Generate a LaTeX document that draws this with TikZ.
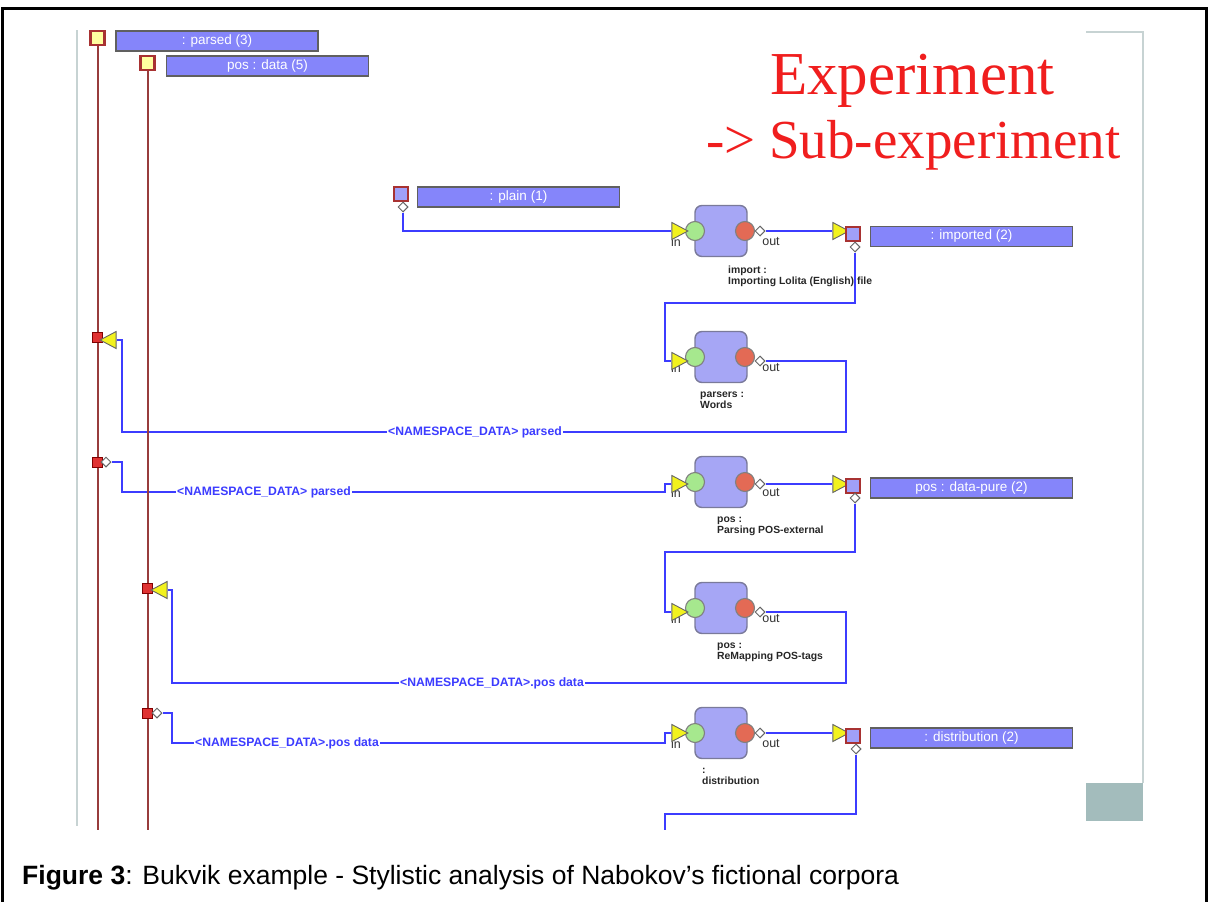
\documentclass[tikz,border=0pt]{standalone}
\usepackage{fontspec}
\setmainfont{Liberation Sans}
\newfontfamily\serifr{Liberation Serif}
\usetikzlibrary{shapes.geometric}
\definecolor{wireblue}{HTML}{3C3CFF}
\definecolor{brownline}{HTML}{983C3C}
\definecolor{sqbrown}{HTML}{A83232}
\definecolor{sqyellow}{HTML}{FFFFA0}
\definecolor{sqlav}{HTML}{A0A0F8}
\definecolor{barblue}{HTML}{8585FA}
\definecolor{bargray}{HTML}{606060}
\definecolor{blocklav}{HTML}{A6A6F5}
\definecolor{blockgray}{HTML}{7A7A9A}
\definecolor{ingreen}{HTML}{A6E88E}
\definecolor{outred}{HTML}{E36A55}
\definecolor{triyellow}{HTML}{F2F21E}
\definecolor{redsqc}{HTML}{E03232}
\definecolor{framegray}{HTML}{C7D3D3}
\definecolor{boxgray}{HTML}{A3BCBC}
\definecolor{expred}{HTML}{F01E1E}
\pgfdeclarelayer{bg}
\pgfsetlayers{bg,main}
\tikzset{
 wire/.style={draw=wireblue, line width=2.5pt},
 brownl/.style={draw=brownline, line width=2pt},
 topsq/.style={rectangle, draw=sqbrown, fill=sqyellow, line width=2.5pt, minimum size=14pt, inner sep=0pt},
 outsq/.style={rectangle, draw=sqbrown, fill=sqlav, line width=2.5pt, minimum size=14pt, inner sep=0pt},
 bar/.style={rectangle, draw=bargray, fill=barblue, line width=1.2pt, minimum width=202pt, minimum height=20pt, inner sep=0pt, text=white, font=\fontsize{13.5}{14}\selectfont},
 blockbox/.style={rectangle, rounded corners=7pt, draw=blockgray, fill=blocklav, line width=1.4pt, minimum width=52pt, minimum height=51pt},
 incirc/.style={circle, draw=gray, fill=ingreen, minimum size=19pt, inner sep=0pt, line width=1.1pt},
 outcirc/.style={circle, draw=gray, fill=outred, minimum size=19pt, inner sep=0pt, line width=1.1pt},
 tri/.style={isosceles triangle, isosceles triangle stretches, shape border rotate=0, draw=black!60, fill=triyellow, minimum width=17pt, minimum height=16pt, inner sep=0pt, line width=0.9pt},
 trileft/.style={tri, shape border rotate=180},
 dia/.style={diamond, draw=black!60, fill=white, minimum size=10pt, inner sep=0pt, line width=1pt},
 redsq/.style={rectangle, fill=redsqc, draw=red!50!black, minimum size=10pt, inner sep=0pt, line width=0.6pt},
 ptlabel/.style={font=\fontsize{12.5}{13}\selectfont, text=black!80, inner sep=0pt},
 wirelabel/.style={fill=white, text=wireblue, font=\bfseries\fontsize{12.2}{12}\selectfont, inner sep=1pt},
 blocklabel/.style={font=\bfseries\fontsize{10.4}{11}\selectfont, align=left, anchor=north west, inner sep=0pt, text=black!85},
}
\begin{document}
\begin{tikzpicture}[x=1pt, y=-1pt]
\useasboundingbox (0,0) rectangle (1208,902);
% outer frame
\draw[line width=3pt] (2,905) -- (2,8) -- (1206,8) -- (1206,905);
% light frame
\draw[framegray, line width=2pt] (77,30) -- (77,826);
\draw[framegray, line width=2pt] (1086,32) -- (1143,32) -- (1143,783);
\fill[boxgray] (1086,783) rectangle (1143,821);
% title
\node[anchor=base west, inner sep=0pt, text=expred, font=\serifr\fontsize{61}{61}\selectfont] (t1) at (770,94) {Experiment};
\node[anchor=base west, inner sep=0pt, text=expred, font=\serifr\fontsize{55}{55}\selectfont] (t2) at (706,158) {-> Sub-experiment};
% top ports
\node[topsq] (s1) at (97.5,38) {};
\node[bar] (b1) at (217,41) {: parsed (3)};
\node[topsq] (s2) at (147.5,63) {};
\node[bar] (b2) at (267.5,66) {pos : data (5)};
\coordinate (e1) at (97.5,830);
\coordinate (e2) at (147.5,830);
% left ports
\node[redsq] (r1) at (97.5,337) {};
\node[trileft] (lt1) at (111,340) {};
\node[redsq] (r2) at (97.5,462) {};
\node[dia] (ld2) at (106,462) {};
\node[redsq] (r3) at (147.5,588) {};
\node[trileft] (lt2) at (162,590) {};
\node[redsq] (r4) at (147.5,713) {};
\node[dia] (ld4) at (157,713) {};
% plain
\node[outsq] (ps) at (401,194) {};
\node[bar] (pb) at (518.5,197) {: plain (1)};
\node[dia] (pd) at (403,207) {};
% import block
\node[blockbox] (imb) at (721,231) {};
\node[ptlabel] (imil) at (676,242) {in};
\node[ptlabel] (imol) at (771,242) {out};
\node[incirc] (imgc) at (695,231) {};
\node[outcirc] (imrc) at (745,231) {};
\node[tri] (imin) at (677,231) {};
\node[dia] (imod) at (760,231) {};
\node[tri] (imot) at (838,231) {};
\node[outsq] (imsq) at (853,234) {};
\node[bar] (imbar) at (971.5,236.5) {: imported (2)};
\node[dia] (imsd) at (855,247) {};
\node[blocklabel] (imlab) at (728,266) {import :\\Importing Lolita (English) file};
% parsers block
\node[blockbox] (pab) at (721,357) {};
\node[ptlabel] (pail) at (676,368) {in};
\node[ptlabel] (paol) at (771,368) {out};
\node[incirc] (pagc) at (695,357) {};
\node[outcirc] (parc) at (745,357) {};
\node[tri] (pain) at (677,361) {};
\node[dia] (paod) at (760,361) {};
\node[blocklabel] (palab) at (700,392) {parsers :\\Words};
% pos block
\node[blockbox] (pob) at (721,482) {};
\node[ptlabel] (poil) at (676,493) {in};
\node[ptlabel] (pool) at (771,493) {out};
\node[incirc] (pogc) at (695,482) {};
\node[outcirc] (porc) at (745,482) {};
\node[tri] (poin) at (677,484) {};
\node[dia] (pood) at (760,484) {};
\node[tri] (poot) at (838,484) {};
\node[outsq] (posq) at (853,486) {};
\node[bar] (pobar) at (971.5,488) {pos : data-pure (2)};
\node[dia] (posd) at (855,498) {};
\node[blocklabel] (polab) at (717,517) {pos :\\Parsing POS-external};
% remap block
\node[blockbox] (rmb) at (721,608) {};
\node[ptlabel] (rmil) at (676,619) {in};
\node[ptlabel] (rmol) at (771,619) {out};
\node[incirc] (rmgc) at (695,608) {};
\node[outcirc] (rmrc) at (745,608) {};
\node[tri] (rmin) at (677,612) {};
\node[dia] (rmod) at (760,612) {};
\node[blocklabel] (rmlab) at (717,643) {pos :\\ReMapping POS-tags};
% distribution block
\node[blockbox] (dib) at (721,733) {};
\node[ptlabel] (diil) at (676,744) {in};
\node[ptlabel] (diol) at (771,744) {out};
\node[incirc] (digc) at (695,733) {};
\node[outcirc] (dirc) at (745,733) {};
\node[tri] (diin) at (677,733) {};
\node[dia] (diod) at (760,733) {};
\node[tri] (diot) at (838,733) {};
\node[outsq] (disq) at (853,736) {};
\node[bar] (dibar) at (971.5,738) {: distribution (2)};
\node[dia] (disd) at (856,749) {};
\node[blocklabel] (dilab) at (702,768) {:\\distribution};
\coordinate (dend) at (665,830);
% wire labels
\node[wirelabel] (wl1) at (475,432) {<NAMESPACE\_DATA> parsed};
\node[wirelabel] (wl2) at (264,492) {<NAMESPACE\_DATA> parsed};
\node[wirelabel] (wl3) at (492,683) {<NAMESPACE\_DATA>.pos data};
\node[wirelabel] (wl4) at (287,743) {<NAMESPACE\_DATA>.pos data};
\begin{pgfonlayer}{bg}
\draw[wire] (pd.south) |- (imin.west);
\draw[wire] (imod.east) -- (imot.west);
\draw[wire] (imsd.south) |- (665,303) |- (pain.west);
\draw[wire] (paod.east) -| (846,432) -| (122,340) -- (lt1.east);
\draw[wire] (ld2.east) -| (122,492) -- (665,492) |- (poin.west);
\draw[wire] (pood.east) -- (poot.west);
\draw[wire] (posd.south) |- (665,552) |- (rmin.west);
\draw[wire] (rmod.east) -| (846,683) -| (172,590) -- (lt2.east);
\draw[wire] (ld4.east) -| (172,743) -- (665,743) |- (diin.west);
\draw[wire] (diod.east) -- (diot.west);
\draw[wire] (disd.south) |- (665,814) -- (dend);
\draw[brownl] (s1.south) -- (e1);
\draw[brownl] (s2.south) -- (e2);
\end{pgfonlayer}
% caption
\node[anchor=base west, inner sep=0pt, font=\fontsize{26.5}{26.5}\selectfont] (cap) at (22,884) {\textbf{Figure 3}: Bukvik example - Stylistic analysis of Nabokov’s fictional corpora};
\end{tikzpicture}
\end{document}
